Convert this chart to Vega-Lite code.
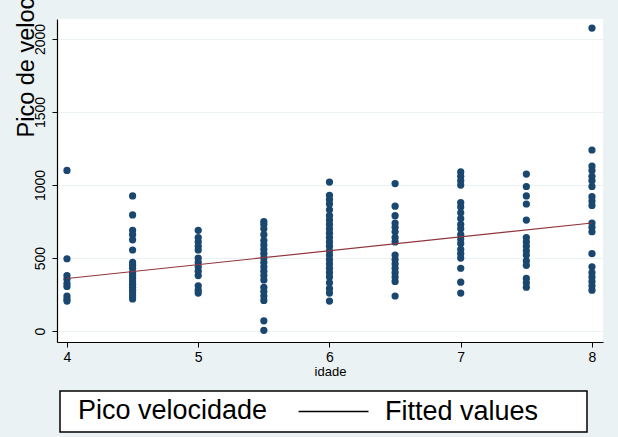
{
  "$schema": "https://vega.github.io/schema/vega-lite/v6.json",
  "width": 546,
  "height": 323,
  "autosize": {"type": "none"},
  "padding": {"left": 57, "top": 19, "right": 15, "bottom": 95},
  "background": "#eaf2f3",
  "config": {
    "view": {"fill": "white", "stroke": null},
    "font": "Liberation Sans",
    "axis": {"labelFont": "Liberation Sans", "titleFont": "Liberation Sans", "labelColor": "black", "titleColor": "black", "titleFontWeight": "normal", "domainColor": "black", "tickColor": "black", "tickSize": 5, "domainWidth": 1.2, "tickWidth": 1}
  },
  "datasets": {
    "pts": [
      {"idade": 4, "pico": 1100}, {"idade": 4, "pico": 495}, {"idade": 4, "pico": 380}, {"idade": 4, "pico": 355}, {"idade": 4, "pico": 325}, {"idade": 4, "pico": 305}, {"idade": 4, "pico": 240}, {"idade": 4, "pico": 220}, {"idade": 4, "pico": 205},
      {"idade": 4.5, "pico": 925}, {"idade": 4.5, "pico": 795}, {"idade": 4.5, "pico": 690}, {"idade": 4.5, "pico": 660}, {"idade": 4.5, "pico": 625}, {"idade": 4.5, "pico": 555}, {"idade": 4.5, "pico": 470}, {"idade": 4.5, "pico": 450}, {"idade": 4.5, "pico": 430}, {"idade": 4.5, "pico": 400}, {"idade": 4.5, "pico": 380}, {"idade": 4.5, "pico": 360}, {"idade": 4.5, "pico": 340}, {"idade": 4.5, "pico": 320}, {"idade": 4.5, "pico": 300}, {"idade": 4.5, "pico": 280}, {"idade": 4.5, "pico": 260}, {"idade": 4.5, "pico": 240}, {"idade": 4.5, "pico": 220},
      {"idade": 5, "pico": 690}, {"idade": 5, "pico": 640}, {"idade": 5, "pico": 610}, {"idade": 5, "pico": 580}, {"idade": 5, "pico": 555}, {"idade": 5, "pico": 500}, {"idade": 5, "pico": 470}, {"idade": 5, "pico": 440}, {"idade": 5, "pico": 410}, {"idade": 5, "pico": 380}, {"idade": 5, "pico": 310}, {"idade": 5, "pico": 280}, {"idade": 5, "pico": 260},
      {"idade": 5.5, "pico": 750}, {"idade": 5.5, "pico": 730}, {"idade": 5.5, "pico": 700}, {"idade": 5.5, "pico": 660}, {"idade": 5.5, "pico": 620}, {"idade": 5.5, "pico": 590}, {"idade": 5.5, "pico": 560}, {"idade": 5.5, "pico": 530}, {"idade": 5.5, "pico": 500}, {"idade": 5.5, "pico": 470}, {"idade": 5.5, "pico": 440}, {"idade": 5.5, "pico": 410}, {"idade": 5.5, "pico": 380}, {"idade": 5.5, "pico": 350}, {"idade": 5.5, "pico": 300}, {"idade": 5.5, "pico": 270}, {"idade": 5.5, "pico": 240}, {"idade": 5.5, "pico": 210}, {"idade": 5.5, "pico": 70}, {"idade": 5.5, "pico": 5},
      {"idade": 6, "pico": 1020}, {"idade": 6, "pico": 930}, {"idade": 6, "pico": 900}, {"idade": 6, "pico": 870}, {"idade": 6, "pico": 830}, {"idade": 6, "pico": 790}, {"idade": 6, "pico": 760}, {"idade": 6, "pico": 730}, {"idade": 6, "pico": 700}, {"idade": 6, "pico": 670}, {"idade": 6, "pico": 640}, {"idade": 6, "pico": 610}, {"idade": 6, "pico": 580}, {"idade": 6, "pico": 550}, {"idade": 6, "pico": 520}, {"idade": 6, "pico": 490}, {"idade": 6, "pico": 460}, {"idade": 6, "pico": 430}, {"idade": 6, "pico": 400}, {"idade": 6, "pico": 370}, {"idade": 6, "pico": 330}, {"idade": 6, "pico": 290}, {"idade": 6, "pico": 260}, {"idade": 6, "pico": 205},
      {"idade": 6.5, "pico": 1010}, {"idade": 6.5, "pico": 855}, {"idade": 6.5, "pico": 790}, {"idade": 6.5, "pico": 740}, {"idade": 6.5, "pico": 710}, {"idade": 6.5, "pico": 680}, {"idade": 6.5, "pico": 640}, {"idade": 6.5, "pico": 610}, {"idade": 6.5, "pico": 520}, {"idade": 6.5, "pico": 490}, {"idade": 6.5, "pico": 460}, {"idade": 6.5, "pico": 430}, {"idade": 6.5, "pico": 400}, {"idade": 6.5, "pico": 370}, {"idade": 6.5, "pico": 340}, {"idade": 6.5, "pico": 240},
      {"idade": 7, "pico": 1090}, {"idade": 7, "pico": 1060}, {"idade": 7, "pico": 1030}, {"idade": 7, "pico": 1000}, {"idade": 7, "pico": 880}, {"idade": 7, "pico": 850}, {"idade": 7, "pico": 810}, {"idade": 7, "pico": 770}, {"idade": 7, "pico": 730}, {"idade": 7, "pico": 700}, {"idade": 7, "pico": 660}, {"idade": 7, "pico": 630}, {"idade": 7, "pico": 600}, {"idade": 7, "pico": 560}, {"idade": 7, "pico": 530}, {"idade": 7, "pico": 500}, {"idade": 7, "pico": 430}, {"idade": 7, "pico": 335}, {"idade": 7, "pico": 260},
      {"idade": 7.5, "pico": 1075}, {"idade": 7.5, "pico": 990}, {"idade": 7.5, "pico": 925}, {"idade": 7.5, "pico": 870}, {"idade": 7.5, "pico": 760}, {"idade": 7.5, "pico": 640}, {"idade": 7.5, "pico": 610}, {"idade": 7.5, "pico": 580}, {"idade": 7.5, "pico": 550}, {"idade": 7.5, "pico": 520}, {"idade": 7.5, "pico": 480}, {"idade": 7.5, "pico": 450}, {"idade": 7.5, "pico": 360}, {"idade": 7.5, "pico": 330}, {"idade": 7.5, "pico": 300},
      {"idade": 8, "pico": 2075}, {"idade": 8, "pico": 1240}, {"idade": 8, "pico": 1130}, {"idade": 8, "pico": 1100}, {"idade": 8, "pico": 1060}, {"idade": 8, "pico": 1030}, {"idade": 8, "pico": 990}, {"idade": 8, "pico": 920}, {"idade": 8, "pico": 890}, {"idade": 8, "pico": 860}, {"idade": 8, "pico": 740}, {"idade": 8, "pico": 710}, {"idade": 8, "pico": 680}, {"idade": 8, "pico": 530}, {"idade": 8, "pico": 440}, {"idade": 8, "pico": 400}, {"idade": 8, "pico": 370}, {"idade": 8, "pico": 340}, {"idade": 8, "pico": 310}, {"idade": 8, "pico": 280}
    ],
    "fit": [
      {"idade": 4, "fitted": 360, "serie": "Fitted values"},
      {"idade": 8, "fitted": 740, "serie": "Fitted values"}
    ]
  },
  "layer": [
    {
      "data": {"name": "pts"},
      "mark": {"type": "circle", "size": 52, "color": "#1a476f", "opacity": 1},
      "encoding": {
        "x": {"field": "idade", "type": "quantitative", "scale": {"domain": [3.924, 8.084], "nice": false, "zero": false},
          "axis": {"values": [4, 5, 6, 7, 8], "format": "d", "grid": false, "title": "idade", "labelFontSize": 14, "labelPadding": 3, "titleFontSize": 13, "titlePadding": 1}},
        "y": {"field": "pico", "type": "quantitative", "scale": {"domain": [-75, 2137], "nice": false, "zero": false},
          "axis": {"values": [0, 500, 1000, 1500, 2000], "format": "d", "grid": true, "gridColor": "#eaf2f3", "gridWidth": 1.2, "labelAngle": 270, "labelFontSize": 14, "labelPadding": 5,
            "title": "Pico de velocidade", "titleFontSize": 23.5, "titleLimit": 400, "titleAngle": 270, "titleAlign": "left", "titleBaseline": "alphabetic", "titleX": -24, "titleY": 118}}
      }
    },
    {
      "data": {"name": "fit"},
      "mark": {"type": "line", "color": "#90353b", "strokeWidth": 1.2},
      "encoding": {
        "x": {"field": "idade", "type": "quantitative"},
        "y": {"field": "fitted", "type": "quantitative"}
      }
    },
    {
      "data": {"name": "fit"},
      "mark": {"type": "line", "strokeWidth": 0},
      "encoding": {
        "x": {"field": "idade", "type": "quantitative"},
        "y": {"field": "fitted", "type": "quantitative"},
        "stroke": {"field": "serie", "type": "nominal", "scale": {"range": ["black"]},
          "legend": {"orient": "none", "legendX": 3, "legendY": 372, "title": "Pico velocidade", "titleLimit": 400, "titleOrient": "left", "titleAnchor": "start", "titleFontSize": 27, "titleFontWeight": "normal", "titleColor": "black", "titleFont": "Liberation Sans", "titlePadding": 138, "titleBaseline": "top",
            "labelFontSize": 27, "labelLimit": 400, "labelColor": "black", "labelFont": "Liberation Sans", "labelOffset": 13, "labelBaseline": "middle",
            "symbolType": "M -11 0 L -4 0 M 16.85 0", "symbolSize": 400, "symbolStrokeWidth": 1.3, "symbolStrokeColor": "black",
            "strokeColor": "black", "fillColor": "white", "padding": 7,
            "encode": {
              "legend": {"update": {"strokeWidth": {"value": 1.5}}},
              "title": {"update": {"dx": {"value": 11}}},
              "labels": {"update": {"dx": {"value": -50}}}
            }}}
      }
    }
  ]
}
